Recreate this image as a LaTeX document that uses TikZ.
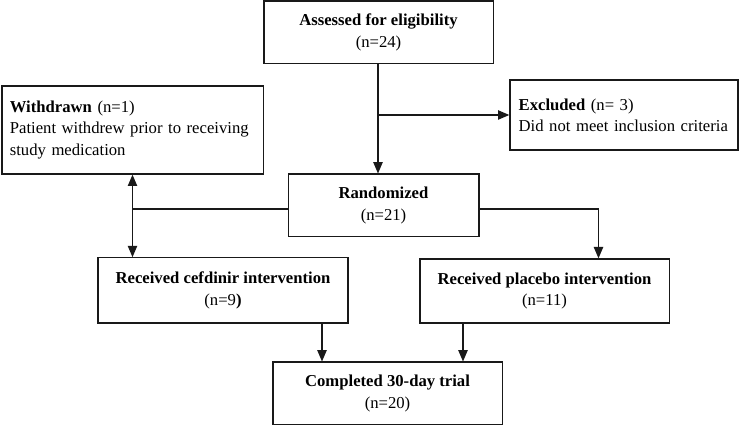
\documentclass[tikz,border=0pt]{standalone}
\usepackage{fontspec}
\setmainfont{Liberation Serif}
\usetikzlibrary{calc,arrows.meta,positioning}

\begin{document}
\begin{tikzpicture} [x=0.75pt,y=-0.75pt,{box/.style={rectangle,draw=black!90,line width=1pt,inner sep=0pt,font=\fontsize{12.5}{16}\selectfont}},{cbox/.style={box,align=center}},{lbox/.style={box,align=left}},{link/.style={draw=black!90,line width=1pt}},{arr/.style={link,-{Triangle[length=8.5pt,width=7pt]}}}]
	\useasboundingbox (0,0) rectangle (750,427);
	%%boxes
	\node [cbox,minimum width=172pt,minimum height=47pt] (Assessed) at (378.5,32.5) {\textbf{Assessed for eligibility}\\(n=24)};
	\node [lbox,minimum width=171pt,minimum height=52.5pt,text width=158pt] (Excluded) at (624,115) {\textbf{Excluded} (n= 3)\\Did not meet inclusion criteria};
	\node [lbox,minimum width=196pt,minimum height=66pt,text width=184pt] (Withdrawn) at (132.5,130) {\textbf{Withdrawn} (n=1)\\Patient withdrew prior to receiving\\study medication};
	\node [cbox,minimum width=143pt,minimum height=47pt] (Randomized) at (383.5,205.5) {\textbf{Randomized}\\(n=21)};
	\node [cbox,minimum width=187.5pt,minimum height=49pt] (Cefdinir) at (223,290.5) {\textbf{Received cefdinir intervention}\\(n=9\textbf{)}};
	\node [cbox,minimum width=187pt,minimum height=48pt] (Placebo) at (544.5,291) {\textbf{Received placebo intervention}\\(n=11)};
	\node [cbox,minimum width=172pt,minimum height=47pt] (Completed) at (387.5,393.5) {\textbf{Completed 30-day trial}\\(n=20)};
	%%branch points
	\coordinate (top) at ($(Assessed.south)+(-0.5,0)$);
	\coordinate (split) at (top |- Excluded.west);
	\coordinate (left) at ($(Randomized.west)+(-155,3.5)$);
	\coordinate (right) at ($(Randomized.east)+(119,3.5)$);
	\coordinate (cdown) at ($(Cefdinir.south)+(99,0)$);
	\coordinate (pdown) at ($(Placebo.south)+(-81.5,0)$);
	%%connectors
	\draw [arr] (top) -- (top |- Randomized.north);
	\draw [arr] (split) -- (split -| Excluded.west);
	\draw [link] (left) -- (left -| Randomized.west);
	\draw [arr,{Triangle[length=8.5pt,width=7pt]}-{Triangle[length=8.5pt,width=7pt]}] (left |- Withdrawn.south) -- (left |- Cefdinir.north);
	\draw [arr] (right -| Randomized.east) -- (right) -- (right |- Placebo.north);
	\draw [arr] (cdown) -- (cdown |- Completed.north);
	\draw [arr] (pdown) -- (pdown |- Completed.north);
\end{tikzpicture}
\end{document}
